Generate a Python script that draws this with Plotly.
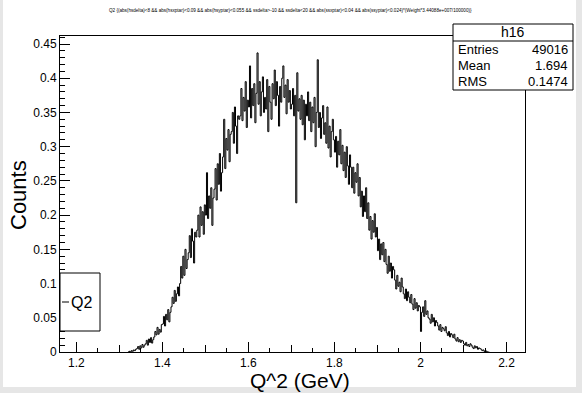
import numpy as np
import plotly.graph_objects as go

# ---------------- data ----------------
BIN_START = 1.32
BIN_WIDTH = 0.0025
counts = [
    0.000, 0.001, 0.000, 0.002, 0.001, 0.003, 0.002, 0.004,
    0.005, 0.008, 0.004, 0.009, 0.006, 0.011, 0.007, 0.010,
    0.012, 0.017, 0.010, 0.019, 0.014, 0.021, 0.013, 0.018,
    0.022, 0.030, 0.025, 0.036, 0.026, 0.033, 0.029, 0.040,
    0.041, 0.052, 0.038, 0.055, 0.047, 0.062, 0.044, 0.058,
    0.066, 0.080, 0.071, 0.090, 0.074, 0.085, 0.095, 0.082,
    0.100, 0.125, 0.108, 0.140, 0.112, 0.150, 0.122, 0.135,
    0.145, 0.170, 0.138, 0.180, 0.162, 0.130, 0.175, 0.168,
    0.178, 0.200, 0.168, 0.212, 0.185, 0.205, 0.172, 0.215,
    0.200, 0.262, 0.195, 0.228, 0.210, 0.240, 0.185, 0.225,
    0.238, 0.268, 0.222, 0.275, 0.245, 0.290, 0.235, 0.262,
    0.285, 0.340, 0.268, 0.312, 0.295, 0.325, 0.278, 0.318,
    0.322, 0.350, 0.305, 0.358, 0.330, 0.290, 0.345, 0.340,
    0.345, 0.385, 0.338, 0.372, 0.352, 0.395, 0.328, 0.368,
    0.358, 0.418, 0.342, 0.385, 0.360, 0.392, 0.335, 0.378,
    0.437, 0.362, 0.395, 0.345, 0.380, 0.402, 0.350, 0.372,
    0.355, 0.398, 0.322, 0.388, 0.365, 0.340, 0.392, 0.370,
    0.412, 0.360, 0.395, 0.375, 0.330, 0.388, 0.365, 0.400,
    0.418, 0.372, 0.390, 0.348, 0.398, 0.365, 0.382, 0.355,
    0.362, 0.385, 0.345, 0.375, 0.218, 0.408, 0.352, 0.370,
    0.340, 0.375, 0.332, 0.368, 0.310, 0.362, 0.345, 0.380,
    0.338, 0.365, 0.322, 0.358, 0.335, 0.372, 0.300, 0.350,
    0.427, 0.328, 0.350, 0.312, 0.342, 0.360, 0.318, 0.335,
    0.305, 0.358, 0.298, 0.330, 0.285, 0.322, 0.340, 0.310,
    0.292, 0.315, 0.270, 0.308, 0.288, 0.325, 0.275, 0.302,
    0.265, 0.292, 0.255, 0.300, 0.272, 0.245, 0.288, 0.270,
    0.240, 0.270, 0.232, 0.262, 0.248, 0.275, 0.228, 0.255,
    0.212, 0.235, 0.198, 0.228, 0.205, 0.240, 0.195, 0.218,
    0.178, 0.198, 0.165, 0.192, 0.175, 0.202, 0.168, 0.182,
    0.148, 0.165, 0.135, 0.158, 0.142, 0.160, 0.132, 0.150,
    0.128, 0.115, 0.140, 0.118, 0.130, 0.108, 0.125, 0.120,
    0.105, 0.092, 0.112, 0.096, 0.102, 0.088, 0.108, 0.095,
    0.085, 0.078, 0.092, 0.075, 0.088, 0.080, 0.072, 0.084,
    0.070, 0.062, 0.078, 0.064, 0.072, 0.060, 0.068, 0.066,
    0.030, 0.058, 0.066, 0.052, 0.075, 0.055, 0.060, 0.050,
    0.048, 0.042, 0.055, 0.044, 0.050, 0.038, 0.046, 0.043,
    0.038, 0.032, 0.040, 0.030, 0.036, 0.034, 0.031, 0.037,
    0.028, 0.024, 0.030, 0.022, 0.027, 0.025, 0.021, 0.026,
    0.019, 0.016, 0.021, 0.015, 0.018, 0.014, 0.017, 0.016,
    0.012, 0.010, 0.014, 0.009, 0.011, 0.008, 0.012, 0.010,
    0.007, 0.005, 0.009, 0.006, 0.008, 0.004, 0.006, 0.005,
    0.004, 0.002, 0.003, 0.001, 0.002, 0.001, 0.000, 0.000,
]
x_tick_vals = [1.2, 1.4, 1.6, 1.8, 2.0, 2.2]
x_tick_text = ["1.2", "1.4", "1.6", "1.8", "2", "2.2"]
y_tick_vals = [0, 0.05, 0.1, 0.15, 0.2, 0.25, 0.3, 0.35, 0.4, 0.45]
y_tick_text = ["0", "0.05", "0.1", "0.15", "0.2", "0.25", "0.3", "0.35", "0.4", "0.45"]
x_mid_ticks = [1.3, 1.5, 1.7, 1.9, 2.1]
stats_rows = [("Entries", "49016"), ("Mean", "1.694"), ("RMS", "0.1474")]
hist_name = "h16"
legend_label = "Q2"
title_text = ("Q2 {(abs(hsdelta)<8 && abs(hsxptar)<0.09 && abs(hsyptar)<0.055 && ssdelta>-10 "
              "&& ssdelta<20 && abs(ssxptar)<0.04 && abs(ssyptar)<0.024)*(Weight*3.44088e+007/100000)}")

X_RANGE = [1.162, 2.243]
Y_RANGE = [0, 0.4617]

# ---------------- layout geometry ----------------
W, H = 582, 393
L, R, T, B = 60, 57, 36, 41
PW, PH = W - L - R, H - T - B
FONT = "Liberation Sans, Arial, Helvetica, sans-serif"


def px(xp):
    return (xp - L) / PW


def py(yp):
    return (H - B - yp) / PH


edges = BIN_START + BIN_WIDTH * np.arange(len(counts) + 1)
xs = [edges[0]] + list(edges[:-1]) + [edges[-1]]
ys = [0] + counts + [0]

fig = go.Figure()
fig.add_trace(go.Scatter(x=xs, y=ys, mode="lines", line_shape="hv",
                         line=dict(color="black", width=1), showlegend=False,
                         hoverinfo="skip"))
fig.add_trace(go.Scatter(x=[X_RANGE[0]], y=[0], xaxis="x2", mode="markers",
                         marker=dict(opacity=0), showlegend=False, hoverinfo="skip"))

shapes = []
annotations = []

shapes.append(dict(type="rect", xref="paper", yref="paper", x0=px(3), x1=px(576),
                   y0=py(387), y1=py(-2), fillcolor="white", line=dict(width=0),
                   layer="below"))

# stats box
sx0, sx1, sy0, sy1, shy = 453, 573, 24, 90, 41
shapes.append(dict(type="rect", xref="paper", yref="paper", x0=px(sx0), x1=px(sx1),
                   y0=py(sy1), y1=py(sy0), fillcolor="white",
                   line=dict(color="black", width=1)))
shapes.append(dict(type="line", xref="paper", yref="paper", x0=px(sx0), x1=px(sx1),
                   y0=py(shy), y1=py(shy), line=dict(color="black", width=1)))
annotations.append(dict(text=hist_name, xref="paper", yref="paper", x=px((sx0 + sx1) / 2),
                        y=py((sy0 + shy) / 2), showarrow=False,
                        font=dict(family=FONT, size=14, color="black"),
                        xanchor="center", yanchor="middle"))
row_h = (sy1 - shy) / len(stats_rows)
for i, (k, v) in enumerate(stats_rows):
    yc = shy + row_h * (i + 0.5)
    annotations.append(dict(text=k, xref="paper", yref="paper", x=px(sx0 + 3), y=py(yc),
                            showarrow=False, font=dict(family=FONT, size=13, color="black"),
                            xanchor="left", yanchor="middle"))
    annotations.append(dict(text=v, xref="paper", yref="paper", x=px(sx1 - 3), y=py(yc),
                            showarrow=False, font=dict(family=FONT, size=13, color="black"),
                            xanchor="right", yanchor="middle"))

# legend box
lx0, lx1, ly0, ly1 = 60, 100, 273, 331
shapes.append(dict(type="rect", xref="paper", yref="paper", x0=px(lx0), x1=px(lx1),
                   y0=py(ly1), y1=py(ly0), fillcolor="white",
                   line=dict(color="black", width=1)))
shapes.append(dict(type="line", xref="paper", yref="paper", x0=px(62), x1=px(69),
                   y0=py(302), y1=py(302), line=dict(color="black", width=1)))
annotations.append(dict(text=legend_label, xref="paper", yref="paper", x=px(69), y=py(302),
                        showarrow=False, font=dict(family=FONT, size=16, color="black"),
                        xanchor="left", yanchor="middle"))

annotations.append(dict(text=title_text, xref="paper", yref="paper", x=px(290), y=py(10),
                        showarrow=False, font=dict(family=FONT, size=4.6, color="black"),
                        xanchor="center", yanchor="middle"))
annotations.append(dict(text="Q^2 (GeV)", xref="paper", yref="paper", x=px(300), y=py(380),
                        showarrow=False, font=dict(family=FONT, size=21, color="black"),
                        xanchor="center", yanchor="middle"))
annotations.append(dict(text="Counts", xref="paper", yref="paper", x=px(18), y=py(195),
                        showarrow=False, textangle=-90,
                        font=dict(family=FONT, size=22, color="black"),
                        xanchor="center", yanchor="middle"))

fig.update_layout(
    width=W, height=H,
    margin=dict(l=L, r=R, t=T, b=B, pad=0, autoexpand=False),
    paper_bgcolor="#e6e6e6",
    plot_bgcolor="white",
    shapes=shapes,
    annotations=annotations,
    xaxis=dict(range=X_RANGE, showgrid=False, zeroline=False, showline=True,
               linecolor="black", linewidth=1, mirror=True,
               ticks="inside", ticklen=10, tickwidth=1, tickcolor="black",
               tickvals=x_tick_vals, ticktext=x_tick_text,
               tickfont=dict(family=FONT, size=12, color="black"),
               minor=dict(dtick=0.05, tick0=1.2, ticks="inside", ticklen=4,
                          tickcolor="black", showgrid=False)),
    xaxis2=dict(range=X_RANGE, overlaying="x", side="bottom", showgrid=False,
                zeroline=False, showline=False, ticks="inside", ticklen=7,
                tickcolor="black", tickvals=x_mid_ticks, showticklabels=False),
    yaxis=dict(range=Y_RANGE, showgrid=False, zeroline=False, showline=True,
               linecolor="black", linewidth=1, mirror=True,
               ticks="inside", ticklen=10, tickwidth=1, tickcolor="black",
               tickvals=y_tick_vals, ticktext=y_tick_text,
               tickfont=dict(family=FONT, size=12, color="black"),
               minor=dict(dtick=0.01, tick0=0, ticks="inside", ticklen=5,
                          tickcolor="black", showgrid=False)),
)

fig.write_html("out.html", config={"displayModeBar": False, "staticPlot": True},
               post_script="document.body.style.margin='0';document.body.style.padding='0';")
